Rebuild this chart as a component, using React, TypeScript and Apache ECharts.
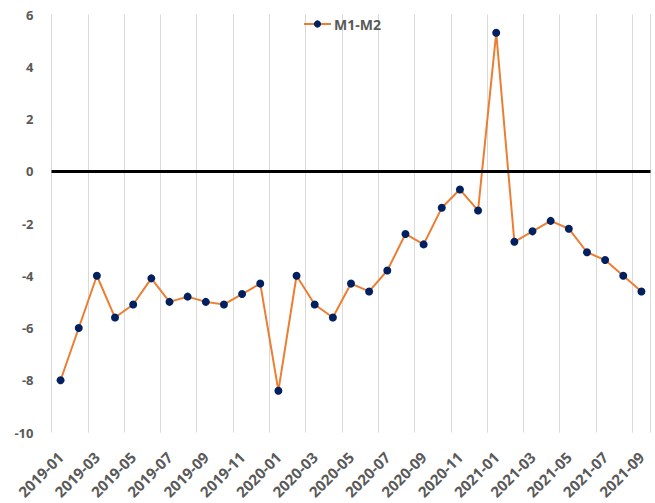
import React, { useEffect, useRef } from "react";
import * as echarts from "echarts";

const months: string[] = [
  "2019-01", "2019-02", "2019-03", "2019-04", "2019-05", "2019-06", "2019-07", "2019-08", "2019-09", "2019-10", "2019-11", "2019-12",
  "2020-01", "2020-02", "2020-03", "2020-04", "2020-05", "2020-06", "2020-07", "2020-08", "2020-09", "2020-10", "2020-11", "2020-12",
  "2021-01", "2021-02", "2021-03", "2021-04", "2021-05", "2021-06", "2021-07", "2021-08", "2021-09",
];

const m1m2: number[] = [
  -8.0, -6.0, -4.0, -5.6, -5.1, -4.1, -5.0, -4.8, -5.0, -5.1, -4.7, -4.3,
  -8.4, -4.0, -5.1, -5.6, -4.3, -4.6, -3.8, -2.4, -2.8, -1.4, -0.7, -1.5,
  5.3, -2.7, -2.3, -1.9, -2.2, -3.1, -3.4, -4.0, -4.6,
];

const seriesName = "M1-M2";
const yMin = -10;
const yMax = 6;
const yStep = 2;

export default function App() {
  const ref = useRef<HTMLDivElement>(null);
  useEffect(() => {
    if (!ref.current) return;
    const chart = echarts.init(ref.current, null, { renderer: "svg" });
    const font = "'Open Sans', 'Liberation Sans', sans-serif";
    chart.setOption({
      animation: false,
      backgroundColor: "#ffffff",
      legend: {
        top: 12,
        left: 298,
        itemWidth: 27,
        itemHeight: 9,
        itemGap: 10,
        textStyle: { color: "#595959", fontWeight: "bold", fontSize: 14, fontFamily: font, padding: [0, 0, 0, -2] },
        data: [seriesName],
      },
      grid: { left: 51.5, right: 4.5, top: 14.5, bottom: 70.5, containLabel: false },
      xAxis: {
        type: "category",
        data: months,
        boundaryGap: true,
        axisLine: { show: false },
        axisTick: { show: false },
        axisLabel: {
          interval: 1,
          rotate: 45,
          margin: 22,
          color: "#595959",
          fontWeight: "bold",
          fontSize: 15,
          fontFamily: font,
        },
        splitLine: { show: true, interval: 1, lineStyle: { color: "#d9d9d9", width: 1 } },
      },
      yAxis: {
        type: "value",
        min: yMin,
        max: yMax,
        interval: yStep,
        axisLine: { show: false },
        axisTick: { show: false },
        splitLine: { show: false },
        axisLabel: {
          margin: 18,
          color: "#595959",
          fontWeight: "bold",
          fontSize: 13,
          fontFamily: font,
        },
      },
      series: [
        {
          name: seriesName,
          type: "line",
          data: m1m2,
          symbol: "circle",
          symbolSize: 8,
          lineStyle: { color: "#ED7D31", width: 2 },
          itemStyle: { color: "#002060", borderWidth: 0 },
          markLine: {
            silent: true,
            symbol: "none",
            label: { show: false },
            lineStyle: { color: "#000000", width: 3, type: "solid" },
            data: [{ yAxis: 0 }],
          },
          z: 3,
        },
      ],
    });
    return () => chart.dispose();
  }, []);
  return (
    <div
      ref={ref}
      style={{ position: "fixed", left: 0, top: 0, width: 655, height: 503 }}
    />
  );
}
